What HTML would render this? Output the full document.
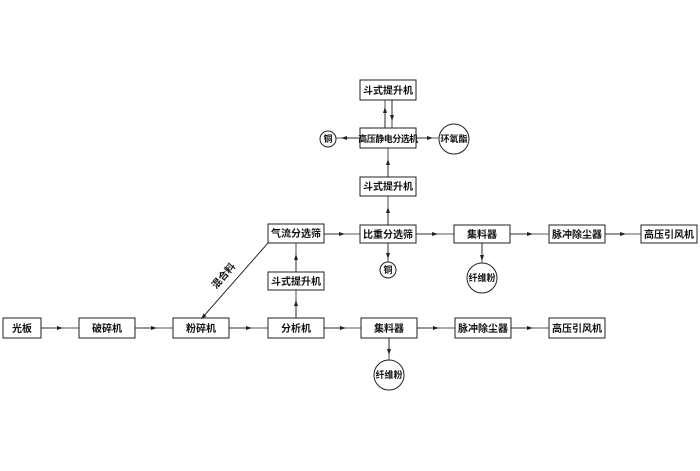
<!DOCTYPE html><html><head><meta charset="utf-8"><style>body{margin:0;background:#fff}</style></head><body>
<svg width="700" height="466" xmlns="http://www.w3.org/2000/svg" font-family="Liberation Sans, Noto Sans CJK SC, sans-serif" font-size="10" font-weight="bold">
<defs><marker id="a" markerWidth="6" markerHeight="4" refX="3" refY="2" orient="auto" markerUnits="userSpaceOnUse"><path d="M0,0L6,2L0,4z" fill="#222"/></marker></defs>
<g fill="#fff" stroke="#222" stroke-width="1">
<rect x="3" y="318" width="38" height="20"/>
<rect x="79" y="318" width="56" height="20"/>
<rect x="173" y="318" width="56" height="20"/>
<rect x="268" y="318" width="56" height="20"/>
<rect x="361" y="318" width="56" height="20"/>
<rect x="455" y="318" width="56" height="20"/>
<rect x="549" y="318" width="56" height="20"/>
<rect x="268" y="272" width="56" height="18"/>
<rect x="268" y="224" width="56" height="19"/>
<rect x="360" y="225" width="56" height="18"/>
<rect x="454" y="225" width="56" height="18"/>
<rect x="549" y="225" width="56" height="18"/>
<rect x="641" y="225" width="56" height="18"/>
<rect x="360" y="177" width="56" height="19"/>
<rect x="360" y="128" width="56" height="20"/>
<rect x="360" y="80" width="56" height="20"/>
<circle cx="328" cy="139" r="8"/>
<circle cx="454" cy="139" r="15"/>
<circle cx="388" cy="270" r="8"/>
<circle cx="482" cy="278" r="15"/>
<circle cx="389" cy="375" r="15"/>
</g>
<g stroke="#222" stroke-width="0.8" fill="none">
<path d="M41,328H79" /><path d="M41,328H60" marker-end="url(#a)"/>
<path d="M135,328H173"/><path d="M135,328H154" marker-end="url(#a)"/>
<path d="M229,328H268"/><path d="M229,328H249" marker-end="url(#a)"/>
<path d="M324,328H361"/><path d="M324,328H343" marker-end="url(#a)"/>
<path d="M417,328H455"/><path d="M417,328H436" marker-end="url(#a)"/>
<path d="M511,328H549"/><path d="M511,328H530" marker-end="url(#a)"/>
<path d="M296,318V290"/><path d="M296,318V303" marker-end="url(#a)"/>
<path d="M296,272V243"/><path d="M296,272V257" marker-end="url(#a)"/>
<path d="M389,338V360"/><path d="M389,338V352" marker-end="url(#a)"/>
<path d="M268,243L202,318"/><path d="M268,243L203,317" marker-end="url(#a)"/>
<path d="M324,234H360"/><path d="M324,234H342" marker-end="url(#a)"/>
<path d="M416,234H454"/><path d="M416,234H435" marker-end="url(#a)"/>
<path d="M510,234H549"/><path d="M510,234H530" marker-end="url(#a)"/>
<path d="M605,234H641"/><path d="M605,234H623" marker-end="url(#a)"/>
<path d="M388,243V262"/><path d="M388,243V256" marker-end="url(#a)"/>
<path d="M482,243V263"/><path d="M482,243V258" marker-end="url(#a)"/>
<path d="M388,225V196"/><path d="M388,225V210" marker-end="url(#a)"/>
<path d="M388,177V148"/><path d="M388,177V162" marker-end="url(#a)"/>
<path d="M360,138H336"/><path d="M360,138H344" marker-end="url(#a)"/>
<path d="M416,138H439"/><path d="M416,138H430" marker-end="url(#a)"/>
<path d="M385,128V100"/><path d="M385,128V110" marker-end="url(#a)"/>
<path d="M392,100V128"/><path d="M392,100V118" marker-end="url(#a)"/>
</g>
<g text-anchor="middle" fill="#111">
<text x="22" y="332">光板</text>
<text x="107" y="332">破碎机</text>
<text x="201" y="332">粉碎机</text>
<text x="296" y="332">分析机</text>
<text x="389" y="332">集料器</text>
<text x="483" y="332">脉冲除尘器</text>
<text x="577" y="332">高压引风机</text>
<text x="296" y="285">斗式提升机</text>
<text x="296" y="237">气流分选筛</text>
<text x="388" y="238">比重分选筛</text>
<text x="482" y="238">集料器</text>
<text x="577" y="238">脉冲除尘器</text>
<text x="669" y="238">高压引风机</text>
<text x="388" y="190">斗式提升机</text>
<text x="388" y="142" font-size="9" letter-spacing="-0.5">高压静电分选机</text>
<text x="388" y="94">斗式提升机</text>
<text x="328" y="142" font-size="9">铜</text>
<text x="454" y="142" font-size="9">环氧酯</text>
<text x="388" y="273" font-size="9">铜</text>
<text x="482" y="281" font-size="9">纤维粉</text>
<text x="389" y="378" font-size="9">纤维粉</text>
<text x="0" y="0" transform="translate(226,278) rotate(-49)">混合料</text>
</g>
</svg></body></html>
